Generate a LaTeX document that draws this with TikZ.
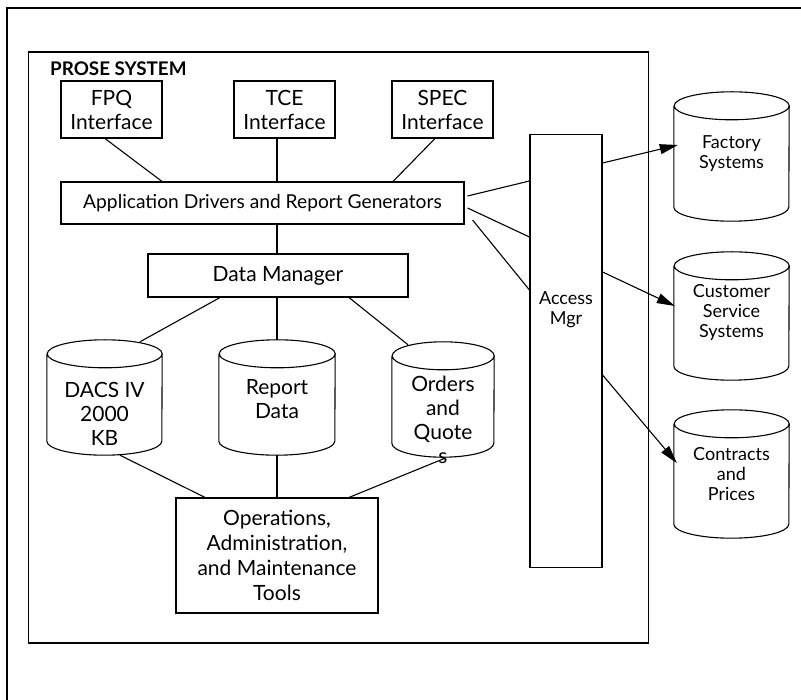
\documentclass[tikz,border=0pt]{standalone}
\usepackage{fontspec}
\setmainfont{Lato}
\usetikzlibrary{arrows.meta}
\tikzset{
  ln/.style={line width=1.1pt, black},
  bigf/.style={font=\fontsize{21}{24}\selectfont},
  smallf/.style={font=\fontsize{18}{20}\selectfont},
  boxn/.style={ln, draw, rectangle, inner sep=0pt, align=center, bigf},
  txt/.style={inner sep=0pt, align=center, bigf},
  stxt/.style={inner sep=0pt, align=center, smallf},
  cylbox/.style={rectangle, inner sep=0pt, draw=none},
  arr/.style={ln, -{Triangle[length=18pt,width=10pt]}},
}
\newcommand{\mycyl}[6]{%
  \node[cylbox, minimum width=#4pt, minimum height=#5pt] (#1) at (#2,#3) {};
  \draw[ln] ([yshift=-#6pt]#1.north west) -- ([yshift=#6pt]#1.south west)
    arc[start angle=180, end angle=360, x radius={#4*0.5pt}, y radius=#6pt]
    -- ([yshift=-#6pt]#1.north east)
    arc[start angle=0, end angle=360, x radius={#4*0.5pt}, y radius=#6pt];
}
\begin{document}
\begin{tikzpicture}[x=1pt, y=-1pt]
\useasboundingbox (0,0) rectangle (801,700);
\fill[white] (0,0) rectangle (801,700);
% outer frame (continues beyond the picture)
\draw[ln] (7,710) -- (7,8) -- (811,8);
% PROSE system frame
\node[ln, draw, rectangle, minimum width=620pt, minimum height=591pt, inner sep=0pt] (prose) at (338.5,347.5) {};
\node[anchor=base west, inner sep=0pt, font=\fontsize{18.8}{22}\selectfont\bfseries] (title) at (50,76) {PROSE SYSTEM};
% interfaces
\node[boxn, minimum width=101pt, minimum height=57pt] (fpq) at (111.5,109.5) {FPQ\\Interface};
\node[boxn, minimum width=101pt, minimum height=57pt] (tce) at (284.5,109.5) {TCE\\Interface};
\node[boxn, minimum width=101pt, minimum height=57pt] (spec) at (442.5,109.5) {SPEC\\Interface};
\node[boxn, minimum width=403pt, minimum height=42pt, font=\fontsize{19.2}{22}\selectfont] (app) at (262.5,203) {Application Drivers and Report Generators};
\node[boxn, minimum width=260pt, minimum height=43pt] (dm) at (278,275.5) {Data Manager};
% databases
\mycyl{dacs}{104.5}{397.5}{115}{115}{14}
\mycyl{report}{277}{397.5}{116}{115}{14}
\mycyl{orders}{443}{399.5}{102}{115}{14}
\node[txt] (dacst) at (104.5,414) {DACS IV\\2000\\KB};
\node[txt] (reportt) at (277,399) {Report\\Data};
\node[txt] (orderst) at (443,420) {Orders\\and\\Quote\\s};
\node[boxn, minimum width=202pt, minimum height=115pt, font=\fontsize{21}{25}\selectfont] (oam) at (277,555.5) {Operations,\\Administration,\\and Maintenance\\Tools};
% access manager
\node[ln, draw, rectangle, minimum width=72pt, minimum height=433pt, inner sep=0pt] (access) at (566,351) {};
\node[stxt] (accesst) at (566,310) {Access\\Mgr};
% external systems
\mycyl{factory}{731.5}{156.5}{115}{129}{14}
\mycyl{customer}{731.5}{316}{115}{128}{14}
\mycyl{contracts}{731.5}{474}{115}{128}{14}
\node[stxt] (factoryt) at (731.5,154) {Factory\\Systems};
\node[stxt] (customert) at (731.5,313) {Customer\\Service\\Systems};
\node[stxt] (contractst) at (731.5,474) {Contracts\\and\\Prices};
% connectors
\draw[ln] ([xshift=-6.5pt]fpq.south) -- ([xshift=-100.5pt]app.north);
\draw[ln] ([xshift=-7.5pt]tce.south) -- ([xshift=14.5pt]app.north);
\draw[ln] ([xshift=-7.5pt]spec.south) -- ([xshift=130.5pt]app.north);
\draw[ln] ([xshift=14.5pt]app.south) -- ([xshift=-1pt]dm.north);
\draw[ln] ([xshift=3pt,yshift=7pt]app.east) -- ([yshift=170pt]access.west);
\draw[ln] ([xshift=3pt,yshift=-5pt]app.east) -- ([yshift=114pt]access.west);
\draw[ln] ([xshift=8pt,yshift=-17pt]app.east) -- ([yshift=61pt]access.west);
\draw[ln] ([xshift=-58pt]dm.south) -- ([xshift=35.5pt,yshift=-2pt]dacs.north);
\draw[ln] ([xshift=-1pt]dm.south) -- (report.north);
\draw[ln] ([xshift=71pt]dm.south) -- ([xshift=-35pt,yshift=-3pt]orders.north);
\draw[ln] ([xshift=15.5pt]dacs.south) -- ([xshift=-72pt]oam.north);
\draw[ln] (report.south) -- (oam.north);
\draw[ln] ([xshift=2pt,yshift=-1pt]orders.south) -- ([xshift=72pt]oam.north);
\draw[arr] ([yshift=188pt]access.east) -- ([xshift=4pt,yshift=11.5pt]factory.west);
\draw[arr] ([yshift=79pt]access.east) -- ([xshift=1pt,yshift=10pt]customer.west);
\draw[arr] ([yshift=-24pt]access.east) -- ([xshift=3pt,yshift=11pt]contracts.west);
\end{tikzpicture}
\end{document}
